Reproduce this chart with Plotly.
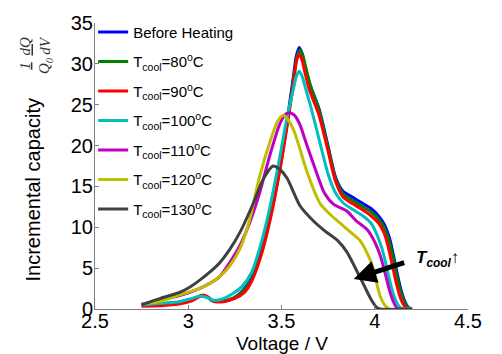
import plotly.graph_objects as go

# ---------------- data ----------------
V_before = [2.75, 2.85, 2.95, 3.02, 3.07, 3.10, 3.13, 3.18, 3.24, 3.29, 3.34, 3.39, 3.44, 3.49, 3.53, 3.56, 3.58, 3.595, 3.61, 3.625, 3.65, 3.70, 3.75, 3.79, 3.83, 3.88, 3.93, 3.98, 4.02, 4.05, 4.08, 4.10, 4.12, 4.14, 4.16, 4.18, 4.20]
Q_before = [0.5, 0.55, 0.75, 1.2, 1.6, 1.5, 1.0, 0.95, 1.3, 2.2, 3.8, 7.0, 11.5, 17.3, 23.0, 27.8, 31.0, 32.0, 31.3, 29.8, 27.6, 24.6, 19.9, 16.1, 14.4, 13.7, 13.0, 12.3, 11.4, 10.4, 8.6, 6.6, 4.4, 2.4, 1.0, 0.2, 0.0]

V_80 = [2.75, 2.85, 2.95, 3.02, 3.07, 3.10, 3.13, 3.18, 3.24, 3.29, 3.34, 3.39, 3.44, 3.49, 3.53, 3.56, 3.585, 3.60, 3.615, 3.63, 3.655, 3.70, 3.75, 3.79, 3.83, 3.88, 3.93, 3.98, 4.02, 4.05, 4.08, 4.10, 4.12, 4.14, 4.16, 4.18, 4.20]
Q_80 = [0.45, 0.5, 0.7, 1.2, 1.65, 1.5, 1.0, 0.95, 1.3, 2.1, 3.6, 6.7, 11.2, 17.0, 22.6, 27.4, 31.0, 31.7, 31.0, 29.6, 27.4, 24.4, 19.7, 15.9, 14.1, 13.3, 12.6, 11.9, 11.0, 10.0, 8.1, 6.1, 3.9, 2.0, 0.8, 0.1, 0.0]

V_90 = [2.75, 2.85, 2.95, 3.02, 3.08, 3.11, 3.14, 3.19, 3.25, 3.30, 3.34, 3.39, 3.44, 3.49, 3.53, 3.56, 3.58, 3.593, 3.61, 3.625, 3.65, 3.70, 3.75, 3.79, 3.83, 3.88, 3.93, 3.98, 4.02, 4.05, 4.07, 4.09, 4.11, 4.13, 4.15, 4.17, 4.20]
Q_90 = [0.35, 0.4, 0.6, 1.0, 1.7, 1.4, 0.9, 0.9, 1.3, 2.0, 3.4, 6.5, 11.0, 16.8, 22.4, 27.0, 30.3, 31.2, 30.5, 29.0, 26.8, 23.8, 19.3, 15.6, 13.7, 12.9, 12.2, 11.4, 10.5, 9.3, 7.8, 5.8, 3.7, 1.9, 0.7, 0.1, 0.0]

V_100 = [2.75, 2.85, 2.95, 3.02, 3.06, 3.10, 3.13, 3.18, 3.24, 3.29, 3.34, 3.39, 3.44, 3.49, 3.53, 3.56, 3.58, 3.595, 3.61, 3.635, 3.66, 3.71, 3.75, 3.79, 3.83, 3.88, 3.93, 3.98, 4.01, 4.04, 4.06, 4.08, 4.10, 4.12, 4.14, 4.20]
Q_100 = [0.5, 0.7, 0.9, 1.3, 1.55, 1.4, 1.1, 1.2, 1.9, 2.8, 4.5, 8.0, 12.7, 18.5, 23.5, 26.5, 28.5, 29.1, 28.5, 26.5, 24.5, 20.0, 16.5, 14.2, 13.0, 12.2, 11.5, 10.5, 9.2, 7.3, 5.5, 3.5, 1.8, 0.7, 0.1, 0.0]

V_110 = [2.75, 2.85, 2.95, 3.05, 3.12, 3.17, 3.22, 3.28, 3.33, 3.38, 3.44, 3.49, 3.52, 3.545, 3.57, 3.60, 3.625, 3.68, 3.73, 3.78, 3.85, 3.90, 3.96, 4.00, 4.03, 4.06, 4.08, 4.10, 4.12, 4.20]
Q_110 = [0.6, 1.1, 1.6, 2.4, 3.2, 4.0, 5.6, 7.9, 10.6, 14.0, 19.0, 22.6, 23.8, 24.0, 23.7, 22.5, 20.8, 17.2, 14.2, 12.8, 12.0, 10.8, 9.7, 8.2, 6.5, 4.0, 2.2, 0.9, 0.1, 0.0]

V_120 = [2.75, 2.85, 2.95, 3.06, 3.12, 3.17, 3.22, 3.28, 3.33, 3.38, 3.44, 3.48, 3.51, 3.54, 3.57, 3.60, 3.625, 3.68, 3.71, 3.76, 3.81, 3.87, 3.92, 3.96, 3.99, 4.01, 4.03, 4.06, 4.08, 4.20]
Q_120 = [0.6, 0.9, 1.7, 2.5, 3.2, 4.0, 5.2, 7.5, 11.0, 16.0, 20.6, 23.0, 23.7, 23.0, 21.6, 19.5, 17.6, 14.2, 12.8, 11.6, 10.6, 9.4, 8.4, 6.8, 5.1, 3.2, 1.5, 0.3, 0.0, 0.0]

V_130 = [2.75, 2.85, 2.95, 3.01, 3.06, 3.12, 3.17, 3.22, 3.28, 3.35, 3.40, 3.455, 3.49, 3.53, 3.60, 3.67, 3.73, 3.80, 3.85, 3.89, 3.94, 3.98, 4.01, 4.03, 4.20]
Q_130 = [0.5, 1.3, 2.0, 2.7, 3.5, 4.6, 5.7, 7.2, 9.5, 13.0, 15.8, 17.5, 17.1, 16.0, 12.6, 10.8, 9.6, 8.4, 7.0, 5.3, 3.0, 1.2, 0.2, 0.0, 0.0]

names = ["Before Heating",
         "T<sub>cool</sub>=80<sup>o</sup>C",
         "T<sub>cool</sub>=90<sup>o</sup>C",
         "T<sub>cool</sub>=100<sup>o</sup>C",
         "T<sub>cool</sub>=110<sup>o</sup>C",
         "T<sub>cool</sub>=120<sup>o</sup>C",
         "T<sub>cool</sub>=130<sup>o</sup>C"]
colors = ["#0000FF", "#008000", "#FF0000", "#00BFBF", "#BF00BF", "#BFBF00", "#404040"]
xs = [V_before, V_80, V_90, V_100, V_110, V_120, V_130]
ys = [Q_before, Q_80, Q_90, Q_100, Q_110, Q_120, Q_130]

x_ticks = [2.5, 3, 3.5, 4, 4.5]
x_ticklabels = ["2.5", "3", "3.5", "4", "4.5"]
y_ticks = [0, 5, 10, 15, 20, 25, 30, 35]

FONT = "Liberation Sans, Arial, sans-serif"

fig = go.Figure()
for i, (x, y, n, c) in enumerate(zip(xs, ys, names, colors)):
    fig.add_trace(go.Scatter(x=x, y=y, mode="lines", name=n,
                             legendgroup=str(i),
                             line=dict(color=c, width=3, shape="spline", smoothing=0.7)))

axis_common = dict(showline=True, linecolor="#808080", linewidth=1,
                   ticks="inside", ticklen=4, tickcolor="#808080",
                   showgrid=False, zeroline=False,
                   tickfont=dict(family=FONT, size=20, color="black"))

fig.update_layout(
    width=502, height=354,
    margin=dict(l=95, r=34, t=17, b=45),
    paper_bgcolor="white", plot_bgcolor="white",
    showlegend=True,
    legend=dict(x=-0.005, y=0.658, xanchor="left", yanchor="middle",
                bgcolor="rgba(0,0,0,0)", tracegroupgap=7,
                font=dict(family=FONT, size=15, color="black")),
    xaxis=dict(range=[2.5, 4.5], tickvals=x_ticks, ticktext=x_ticklabels,
               ticklabelstandoff=-6, **axis_common),
    yaxis=dict(range=[0, 35], tickvals=y_ticks, ticklabelstandoff=-3, **axis_common),
)

ann = []
# x-axis label
ann.append(dict(text="Voltage / V", x=0.5, y=-0.12, xref="paper", yref="paper",
                showarrow=False, xanchor="center", yanchor="middle",
                font=dict(family=FONT, size=19, color="black")))
# y-axis label
ann.append(dict(text="Incremental capacity", x=(33 - 95) / 373, y=(309 - 188) / 292,
                xref="paper", yref="paper", showarrow=False, textangle=-90,
                xanchor="center", yanchor="middle",
                font=dict(family=FONT, size=20, color="black")))
# fraction 1/Q0 dQ/dV
SERIF = "Liberation Serif, Times New Roman, serif"
ann.append(dict(text="<i><u>1</u></i><br><i>Q<sub>0</sub></i>", x=(36 - 95) / 373, y=(309 - 61) / 292,
                xref="paper", yref="paper", showarrow=False, textangle=-90,
                xanchor="center", yanchor="middle",
                font=dict(family=SERIF, size=15, color="#333333")))
ann.append(dict(text="<i><u>dQ</u></i><br><i>dV</i>", x=(35 - 95) / 373, y=(309 - 41) / 292,
                xref="paper", yref="paper", showarrow=False, textangle=-90,
                xanchor="center", yanchor="middle",
                font=dict(family=SERIF, size=15, color="#333333")))
# arrow
ann.append(dict(text="", x=3.887, y=3.67, ax=4.166, ay=5.74, xref="x", yref="y",
                axref="x", ayref="y", showarrow=True, arrowhead=2, arrowsize=0.9,
                arrowwidth=5, arrowcolor="black"))
ann.append(dict(text="<b><i>T<sub>cool</sub></i></b>\u2191", x=4.213, y=6.1, xref="x", yref="y",
                showarrow=False, xanchor="left", yanchor="middle",
                font=dict(family=FONT, size=17, color="black")))
fig.update_layout(annotations=ann)

fig.write_html("out.html")
